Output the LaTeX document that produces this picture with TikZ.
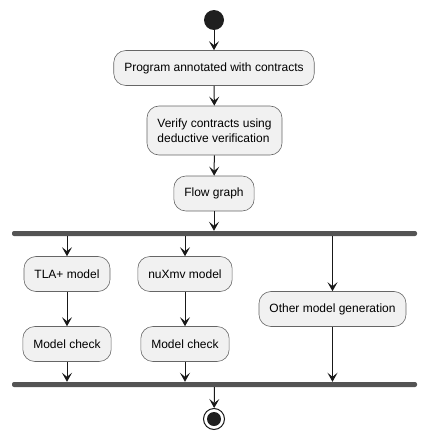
\documentclass[tikz,border=0pt]{standalone}
\usepackage{fontspec}
\setmainfont{Liberation Sans}
\usetikzlibrary{arrows.meta}

\begin{document}
\begin{tikzpicture}[x=1pt, y=-1pt,
  act/.style={draw=black!60, fill=black!5.5, rounded corners=12pt, line width=0.6pt,
    minimum height=35pt, inner xsep=10.5pt, font=\fontsize{12}{14.5}\selectfont},
  bar/.style={fill=black!67, rounded corners=2pt, minimum width=405pt, minimum height=5pt, inner sep=0pt},
  arr/.style={-{Stealth[length=9pt, width=10pt, inset=4pt]}, line width=1pt, draw=black!90}]
  \useasboundingbox (0,0) rectangle (427,439);
  \node[circle, fill=black!88, minimum size=20pt, inner sep=0pt] (start) at (214,20) {};
  \node[act] (prog) at (214,68) {Program annotated with contracts};
  \node[act, align=left, minimum height=49pt] (verify) at (214.5,130.5) {Verify contracts using\\deductive verification};
  \node[act] (flow) at (214,193.5) {Flow graph};
  \node[bar] (fork) at (214.5,233.5) {};
  \node[act] (tla) at (67,274) {TLA+ model};
  \node[act] (tlacheck) at (67,344) {Model check};
  \node[act] (nuxmv) at (185,274) {nuXmv model};
  \node[act] (nuxmvcheck) at (185,344) {Model check};
  \node[act] (other) at (332.5,309) {Other model generation};
  \node[bar] (join) at (214.5,384.5) {};
  \node[circle, draw=black!90, fill=white, line width=1pt, minimum size=21pt, inner sep=0pt] (stop) at (214,419) {};
  \fill[black!88] (stop) circle [radius=7pt];

  \draw[arr] (start) -- (prog);
  \draw[arr] (prog) -- (verify);
  \draw[arr] (verify) -- (flow);
  \draw[arr] (flow) -- (flow |- fork.north);
  \foreach \n in {tla, nuxmv, other}
    \draw[arr] (fork.south -| \n) -- (\n);
  \draw[arr] (tla) -- (tlacheck);
  \draw[arr] (nuxmv) -- (nuxmvcheck);
  \foreach \n in {tlacheck, nuxmvcheck, other}
    \draw[arr] (\n) -- (\n |- join.north);
  \draw[arr] (join) -- (stop);
\end{tikzpicture}
\end{document}
